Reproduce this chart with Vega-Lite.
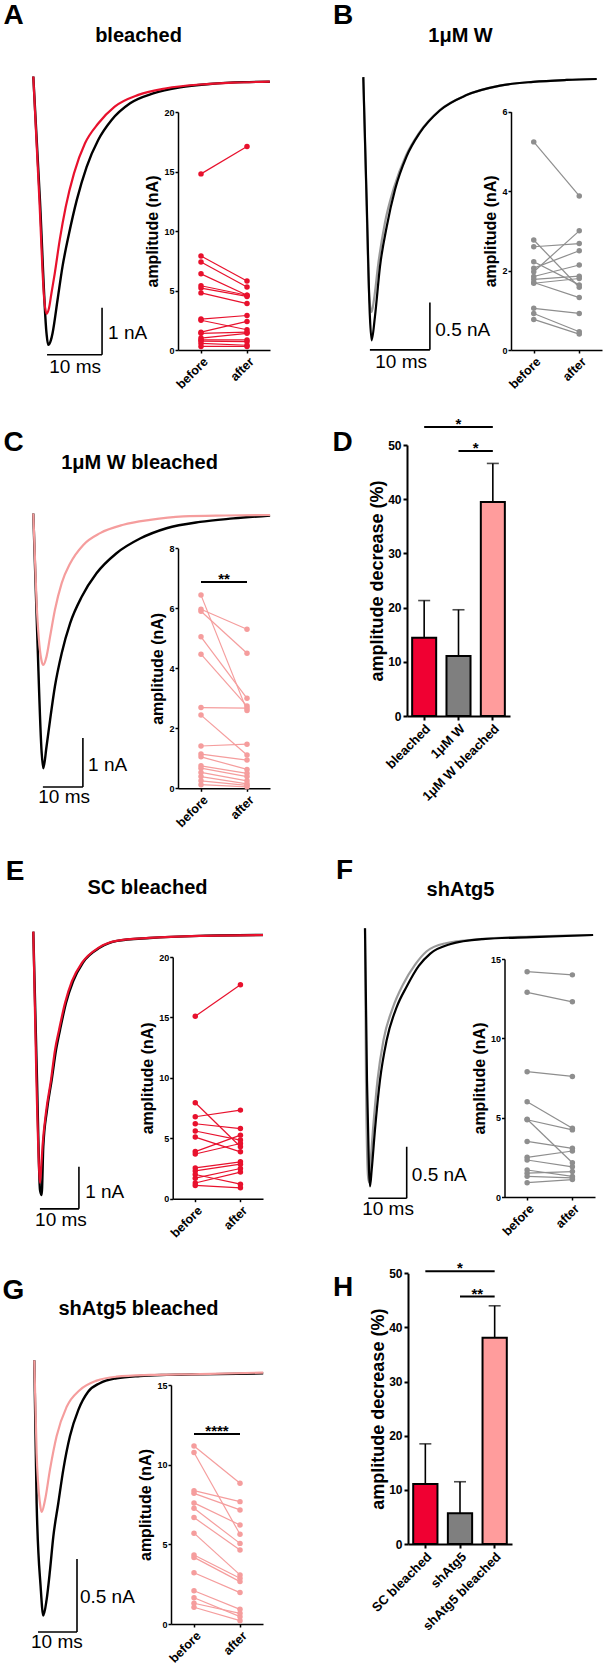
{
"$schema": "https://vega.github.io/schema/vega-lite/v6.json",
"width": 603, "height": 1665, "autosize": {"type": "none"}, "padding": 0,
"config": {
 "view": {"stroke": null},
 "font": "Liberation Sans",
 "axis": {"grid": false, "labelFont": "Liberation Sans", "titleFont": "Liberation Sans", "labelFontWeight": "bold", "titleFontWeight": "bold", "labelColor": "#000000", "titleColor": "#000000", "domainColor": "#000000", "tickColor": "#000000", "domainWidth": 1.5, "tickWidth": 1.5, "labelOverlap": false},
 "text": {"font": "Liberation Sans", "color": "#000000"}
},
"resolve": {"scale": {"x": "independent", "y": "independent", "fill": "independent"}, "axis": {"x": "independent", "y": "independent"}},
"datasets": {
 "traces": [
  {"panel":"A","cond":"k","t":0,"I":0.11},{"panel":"A","cond":"k","t":1.2,"I":-2.5},{"panel":"A","cond":"k","t":2.4,"I":-5.35},{"panel":"A","cond":"k","t":2.7,"I":-5.6},{"panel":"A","cond":"k","t":3.2,"I":-5.5},{"panel":"A","cond":"k","t":3.5,"I":-5.35},{"panel":"A","cond":"k","t":4.4,"I":-4.65},{"panel":"A","cond":"k","t":5.3,"I":-3.94},{"panel":"A","cond":"k","t":6.5,"I":-3.23},{"panel":"A","cond":"k","t":7.9,"I":-2.52},{"panel":"A","cond":"k","t":9.7,"I":-1.81},{"panel":"A","cond":"k","t":11.8,"I":-1.24},{"panel":"A","cond":"k","t":14.2,"I":-0.82},{"panel":"A","cond":"k","t":17.6,"I":-0.46},{"panel":"A","cond":"k","t":21.8,"I":-0.25},{"panel":"A","cond":"k","t":26.7,"I":-0.12},{"panel":"A","cond":"k","t":32.1,"I":-0.05},{"panel":"A","cond":"k","t":38.2,"I":-0.01},{"panel":"A","cond":"k","t":43,"I":0},
  {"panel":"A","cond":"c","t":0,"I":0.11},{"panel":"A","cond":"c","t":1.1,"I":-2.5},{"panel":"A","cond":"c","t":2.0,"I":-4.65},{"panel":"A","cond":"c","t":2.4,"I":-4.94},{"panel":"A","cond":"c","t":2.85,"I":-4.82},{"panel":"A","cond":"c","t":3.3,"I":-4.5},{"panel":"A","cond":"c","t":3.9,"I":-4.08},{"panel":"A","cond":"c","t":4.8,"I":-3.37},{"panel":"A","cond":"c","t":5.9,"I":-2.66},{"panel":"A","cond":"c","t":7.4,"I":-1.95},{"panel":"A","cond":"c","t":9.4,"I":-1.31},{"panel":"A","cond":"c","t":11.8,"I":-0.89},{"panel":"A","cond":"c","t":14.8,"I":-0.53},{"panel":"A","cond":"c","t":19.1,"I":-0.28},{"panel":"A","cond":"c","t":24.2,"I":-0.14},{"panel":"A","cond":"c","t":30.3,"I":-0.06},{"panel":"A","cond":"c","t":36.4,"I":-0.02},{"panel":"A","cond":"c","t":43,"I":0},
  {"panel":"B","cond":"c","t":0,"I":0.02},{"panel":"B","cond":"c","t":0.5,"I":-1.2},{"panel":"B","cond":"c","t":1.0,"I":-2.3},{"panel":"B","cond":"c","t":1.39,"I":-2.46},{"panel":"B","cond":"c","t":1.78,"I":-2.33},{"panel":"B","cond":"c","t":2.5,"I":-1.95},{"panel":"B","cond":"c","t":3.6,"I":-1.52},{"panel":"B","cond":"c","t":5.1,"I":-1.15},{"panel":"B","cond":"c","t":7.1,"I":-0.81},{"panel":"B","cond":"c","t":9.3,"I":-0.57},{"panel":"B","cond":"c","t":12.7,"I":-0.33},{"panel":"B","cond":"c","t":17.2,"I":-0.17},{"panel":"B","cond":"c","t":22.8,"I":-0.07},{"panel":"B","cond":"c","t":28.3,"I":-0.03},{"panel":"B","cond":"c","t":33.9,"I":-0.01},{"panel":"B","cond":"c","t":38.9,"I":0},
  {"panel":"B","cond":"k","t":0,"I":0.02},{"panel":"B","cond":"k","t":0.56,"I":-1.28},{"panel":"B","cond":"k","t":1.1,"I":-2.51},{"panel":"B","cond":"k","t":1.39,"I":-2.76},{"panel":"B","cond":"k","t":1.94,"I":-2.51},{"panel":"B","cond":"k","t":2.78,"I":-1.98},{"panel":"B","cond":"k","t":3.9,"I":-1.56},{"panel":"B","cond":"k","t":5.28,"I":-1.17},{"panel":"B","cond":"k","t":7.2,"I":-0.82},{"panel":"B","cond":"k","t":9.4,"I":-0.57},{"panel":"B","cond":"k","t":12.8,"I":-0.33},{"panel":"B","cond":"k","t":17.2,"I":-0.17},{"panel":"B","cond":"k","t":22.8,"I":-0.07},{"panel":"B","cond":"k","t":28.3,"I":-0.03},{"panel":"B","cond":"k","t":33.9,"I":-0.01},{"panel":"B","cond":"k","t":38.9,"I":0},
  {"panel":"C","cond":"k","t":0,"I":0.03},{"panel":"C","cond":"k","t":1.0,"I":-2.48},{"panel":"C","cond":"k","t":2.1,"I":-4.86},{"panel":"C","cond":"k","t":2.5,"I":-5.17},{"panel":"C","cond":"k","t":3.3,"I":-4.73},{"panel":"C","cond":"k","t":4.2,"I":-4.18},{"panel":"C","cond":"k","t":5.4,"I":-3.5},{"panel":"C","cond":"k","t":7.1,"I":-2.82},{"panel":"C","cond":"k","t":9.2,"I":-2.21},{"panel":"C","cond":"k","t":12.1,"I":-1.67},{"panel":"C","cond":"k","t":15.8,"I":-1.19},{"panel":"C","cond":"k","t":20.8,"I":-0.78},{"panel":"C","cond":"k","t":26.7,"I":-0.48},{"panel":"C","cond":"k","t":33.3,"I":-0.27},{"panel":"C","cond":"k","t":41.7,"I":-0.14},{"panel":"C","cond":"k","t":50,"I":-0.07},{"panel":"C","cond":"k","t":59.2,"I":-0.01},
  {"panel":"C","cond":"c","t":0,"I":0.03},{"panel":"C","cond":"c","t":0.83,"I":-1.8},{"panel":"C","cond":"c","t":2.0,"I":-2.95},{"panel":"C","cond":"c","t":2.5,"I":-3.06},{"panel":"C","cond":"c","t":3.3,"I":-2.89},{"panel":"C","cond":"c","t":4.2,"I":-2.48},{"panel":"C","cond":"c","t":5.4,"I":-1.94},{"panel":"C","cond":"c","t":7.1,"I":-1.39},{"panel":"C","cond":"c","t":9.2,"I":-0.99},{"panel":"C","cond":"c","t":12.5,"I":-0.61},{"panel":"C","cond":"c","t":16.7,"I":-0.37},{"panel":"C","cond":"c","t":22.5,"I":-0.2},{"panel":"C","cond":"c","t":29.2,"I":-0.1},{"panel":"C","cond":"c","t":37.5,"I":-0.03},{"panel":"C","cond":"c","t":48,"I":-0.01},{"panel":"C","cond":"c","t":59.2,"I":0},
  {"panel":"E","cond":"k","t":0,"I":0.08},{"panel":"E","cond":"k","t":0.95,"I":-3.45},{"panel":"E","cond":"k","t":1.72,"I":-6.07},{"panel":"E","cond":"k","t":2.15,"I":-6.19},{"panel":"E","cond":"k","t":2.56,"I":-5.04},{"panel":"E","cond":"k","t":3.51,"I":-4.17},{"panel":"E","cond":"k","t":4.72,"I":-3.45},{"panel":"E","cond":"k","t":5.82,"I":-2.74},{"panel":"E","cond":"k","t":6.85,"I":-2.26},{"panel":"E","cond":"k","t":8.38,"I":-1.62},{"panel":"E","cond":"k","t":10.2,"I":-1.1},{"panel":"E","cond":"k","t":12.7,"I":-0.66},{"panel":"E","cond":"k","t":17.1,"I":-0.3},{"panel":"E","cond":"k","t":21.5,"I":-0.14},{"panel":"E","cond":"k","t":29.9,"I":-0.07},{"panel":"E","cond":"k","t":42.7,"I":-0.02},{"panel":"E","cond":"k","t":58.9,"I":0},
  {"panel":"E","cond":"c","t":0,"I":0.08},{"panel":"E","cond":"c","t":0.8,"I":-3.45},{"panel":"E","cond":"c","t":1.5,"I":-5.6},{"panel":"E","cond":"c","t":1.72,"I":-5.9},{"panel":"E","cond":"c","t":2.05,"I":-5.5},{"panel":"E","cond":"c","t":2.36,"I":-5.04},{"panel":"E","cond":"c","t":3.33,"I":-4.17},{"panel":"E","cond":"c","t":4.54,"I":-3.45},{"panel":"E","cond":"c","t":5.56,"I":-2.74},{"panel":"E","cond":"c","t":6.6,"I":-2.26},{"panel":"E","cond":"c","t":8.13,"I":-1.62},{"panel":"E","cond":"c","t":9.9,"I":-1.1},{"panel":"E","cond":"c","t":12.5,"I":-0.66},{"panel":"E","cond":"c","t":16.8,"I":-0.3},{"panel":"E","cond":"c","t":21.3,"I":-0.14},{"panel":"E","cond":"c","t":29.7,"I":-0.07},{"panel":"E","cond":"c","t":42.5,"I":-0.02},{"panel":"E","cond":"c","t":58.9,"I":0},
  {"panel":"F","cond":"c","t":0,"I":0.065},{"panel":"F","cond":"c","t":0.26,"I":-1.41},{"panel":"F","cond":"c","t":0.78,"I":-2.34},{"panel":"F","cond":"c","t":1.04,"I":-2.4},{"panel":"F","cond":"c","t":1.3,"I":-2.28},{"panel":"F","cond":"c","t":2.08,"I":-1.89},{"panel":"F","cond":"c","t":3.26,"I":-1.41},{"panel":"F","cond":"c","t":4.82,"I":-1.02},{"panel":"F","cond":"c","t":7.3,"I":-0.7},{"panel":"F","cond":"c","t":9.9,"I":-0.48},{"panel":"F","cond":"c","t":13,"I":-0.29},{"panel":"F","cond":"c","t":16,"I":-0.16},{"panel":"F","cond":"c","t":21,"I":-0.08},{"panel":"F","cond":"c","t":30,"I":-0.04},{"panel":"F","cond":"c","t":43,"I":-0.015},{"panel":"F","cond":"c","t":59.4,"I":0},
  {"panel":"F","cond":"k","t":0,"I":0.065},{"panel":"F","cond":"k","t":0.52,"I":-1.41},{"panel":"F","cond":"k","t":1.04,"I":-2.28},{"panel":"F","cond":"k","t":1.3,"I":-2.44},{"panel":"F","cond":"k","t":1.74,"I":-2.28},{"panel":"F","cond":"k","t":2.6,"I":-1.89},{"panel":"F","cond":"k","t":3.9,"I":-1.41},{"panel":"F","cond":"k","t":5.65,"I":-1.02},{"panel":"F","cond":"k","t":8.25,"I":-0.7},{"panel":"F","cond":"k","t":10.86,"I":-0.5},{"panel":"F","cond":"k","t":14,"I":-0.3},{"panel":"F","cond":"k","t":17,"I":-0.18},{"panel":"F","cond":"k","t":22.1,"I":-0.09},{"panel":"F","cond":"k","t":30.7,"I":-0.04},{"panel":"F","cond":"k","t":43.75,"I":-0.02},{"panel":"F","cond":"k","t":59.4,"I":0},
  {"panel":"G","cond":"k","t":0,"I":0.09},{"panel":"G","cond":"k","t":0.6,"I":-0.89},{"panel":"G","cond":"k","t":1.62,"I":-1.46},{"panel":"G","cond":"k","t":2.31,"I":-1.66},{"panel":"G","cond":"k","t":3.16,"I":-1.55},{"panel":"G","cond":"k","t":4.02,"I":-1.35},{"panel":"G","cond":"k","t":4.87,"I":-1.12},{"panel":"G","cond":"k","t":6.15,"I":-0.89},{"panel":"G","cond":"k","t":7.44,"I":-0.66},{"panel":"G","cond":"k","t":9.15,"I":-0.43},{"panel":"G","cond":"k","t":11.3,"I":-0.25},{"panel":"G","cond":"k","t":13.8,"I":-0.126},{"panel":"G","cond":"k","t":16.8,"I":-0.068},{"panel":"G","cond":"k","t":21.1,"I":-0.034},{"panel":"G","cond":"k","t":27.1,"I":-0.018},{"panel":"G","cond":"k","t":33.9,"I":-0.011},{"panel":"G","cond":"k","t":42.5,"I":-0.007},{"panel":"G","cond":"k","t":58.7,"I":0},
  {"panel":"G","cond":"c","t":0,"I":0.09},{"panel":"G","cond":"c","t":0.6,"I":-0.55},{"panel":"G","cond":"c","t":1.45,"I":-0.89},{"panel":"G","cond":"c","t":1.88,"I":-0.95},{"panel":"G","cond":"c","t":2.74,"I":-0.87},{"panel":"G","cond":"c","t":4.02,"I":-0.66},{"panel":"G","cond":"c","t":5.73,"I":-0.43},{"panel":"G","cond":"c","t":8.29,"I":-0.23},{"panel":"G","cond":"c","t":11.7,"I":-0.114},{"panel":"G","cond":"c","t":16,"I":-0.05},{"panel":"G","cond":"c","t":21.1,"I":-0.023},{"panel":"G","cond":"c","t":29.7,"I":-0.011},{"panel":"G","cond":"c","t":42.5,"I":-0.005},{"panel":"G","cond":"c","t":58.7,"I":0.005}
 ],
 "scalebars": [
  {"panel":"A","t":2.5,"t2":12.5,"I":-5.81,"I2":-5.81},{"panel":"A","t":12.5,"t2":12.5,"I":-4.81,"I2":-5.81},
  {"panel":"B","t":1.1,"t2":11.1,"I":-2.86,"I2":-2.86},{"panel":"B","t":11.1,"t2":11.1,"I":-2.36,"I2":-2.86},
  {"panel":"C","t":2.4,"t2":12.4,"I":-5.55,"I2":-5.55},{"panel":"C","t":12.4,"t2":12.4,"I":-4.55,"I2":-5.55},
  {"panel":"E","t":1.7,"t2":11.7,"I":-6.52,"I2":-6.52},{"panel":"E","t":11.7,"t2":11.7,"I":-5.52,"I2":-6.52},
  {"panel":"F","t":0.86,"t2":10.86,"I":-2.556,"I2":-2.556},{"panel":"F","t":10.86,"t2":10.86,"I":-2.056,"I2":-2.556},
  {"panel":"G","t":0.95,"t2":10.95,"I":-1.772,"I2":-1.772},{"panel":"G","t":10.95,"t2":10.95,"I":-1.272,"I2":-1.772}
 ],
 "scaletext": [
  {"panel":"A","kind":"amp","label":"1 nA","t":13.6,"I":-5.35},{"panel":"A","kind":"time","label":"10 ms","t":7.6,"I":-6.07},
  {"panel":"B","kind":"amp","label":"0.5 nA","t":12.0,"I":-2.65},{"panel":"B","kind":"time","label":"10 ms","t":6.3,"I":-2.99},
  {"panel":"C","kind":"amp","label":"1 nA","t":13.7,"I":-5.1},{"panel":"C","kind":"time","label":"10 ms","t":7.7,"I":-5.76},
  {"panel":"E","kind":"amp","label":"1 nA","t":13.3,"I":-6.12},{"panel":"E","kind":"time","label":"10 ms","t":7.1,"I":-6.79},
  {"panel":"F","kind":"amp","label":"0.5 nA","t":12.2,"I":-2.33},{"panel":"F","kind":"time","label":"10 ms","t":6.0,"I":-2.66},
  {"panel":"G","kind":"amp","label":"0.5 nA","t":11.7,"I":-1.532},{"panel":"G","kind":"time","label":"10 ms","t":5.8,"I":-1.84}
 ],
 "pairs": [
  {"panel":"A","id":1,"before":14.8,"after":17.1},{"panel":"A","id":2,"before":7.9,"after":5.8},{"panel":"A","id":3,"before":7.4,"after":5.3},{"panel":"A","id":4,"before":6.4,"after":4.6},{"panel":"A","id":5,"before":5.4,"after":4.6},{"panel":"A","id":6,"before":5.2,"after":4.5},{"panel":"A","id":7,"before":4.8,"after":3.9},{"panel":"A","id":8,"before":2.6,"after":2.9},{"panel":"A","id":9,"before":2.5,"after":1.7},{"panel":"A","id":10,"before":1.5,"after":2.4},{"panel":"A","id":11,"before":1.4,"after":1.5},{"panel":"A","id":12,"before":1.0,"after":1.4},{"panel":"A","id":13,"before":0.85,"after":0.85},{"panel":"A","id":14,"before":0.75,"after":0.7},{"panel":"A","id":15,"before":0.55,"after":0.4},{"panel":"A","id":16,"before":0.3,"after":0.3},
  {"panel":"B","id":1,"before":5.24,"after":3.88},{"panel":"B","id":2,"before":2.77,"after":1.58},{"panel":"B","id":3,"before":2.6,"after":2.68},{"panel":"B","id":4,"before":2.22,"after":1.64},{"panel":"B","id":5,"before":2.06,"after":2.5},{"panel":"B","id":6,"before":1.97,"after":3.0},{"panel":"B","id":7,"before":1.85,"after":2.14},{"panel":"B","id":8,"before":1.78,"after":1.86},{"panel":"B","id":9,"before":1.7,"after":1.32},{"panel":"B","id":10,"before":1.68,"after":1.8},{"panel":"B","id":11,"before":1.05,"after":0.92},{"panel":"B","id":12,"before":0.92,"after":0.46},{"panel":"B","id":13,"before":0.77,"after":0.4},
  {"panel":"C","id":1,"before":6.44,"after":2.59},{"panel":"C","id":2,"before":5.97,"after":5.3},{"panel":"C","id":3,"before":5.9,"after":4.5},{"panel":"C","id":4,"before":5.05,"after":3.0},{"panel":"C","id":5,"before":4.47,"after":2.74},{"panel":"C","id":6,"before":2.69,"after":2.67},{"panel":"C","id":7,"before":2.44,"after":1.11},{"panel":"C","id":8,"before":1.41,"after":1.47},{"panel":"C","id":9,"before":1.14,"after":0.94},{"panel":"C","id":10,"before":1.05,"after":0.63},{"panel":"C","id":11,"before":0.75,"after":0.5},{"panel":"C","id":12,"before":0.67,"after":0.39},{"panel":"C","id":13,"before":0.53,"after":0.25},{"panel":"C","id":14,"before":0.39,"after":0.15},{"panel":"C","id":15,"before":0.25,"after":0.1},{"panel":"C","id":16,"before":0.12,"after":0.05},
  {"panel":"E","id":1,"before":15.1,"after":17.7},{"panel":"E","id":2,"before":7.94,"after":4.3},{"panel":"E","id":3,"before":6.78,"after":7.33},{"panel":"E","id":4,"before":6.2,"after":5.8},{"panel":"E","id":5,"before":5.6,"after":4.85},{"panel":"E","id":6,"before":5.1,"after":3.88},{"panel":"E","id":7,"before":3.9,"after":5.26},{"panel":"E","id":8,"before":3.7,"after":4.57},{"panel":"E","id":9,"before":2.55,"after":3.05},{"panel":"E","id":10,"before":2.3,"after":2.86},{"panel":"E","id":11,"before":2.0,"after":1.2},{"panel":"E","id":12,"before":1.7,"after":2.5},{"panel":"E","id":13,"before":1.3,"after":2.2},{"panel":"E","id":14,"before":1.1,"after":0.9},
  {"panel":"F","id":1,"before":14.2,"after":14.0},{"panel":"F","id":2,"before":12.9,"after":12.3},{"panel":"F","id":3,"before":7.9,"after":7.6},{"panel":"F","id":4,"before":6.0,"after":4.33},{"panel":"F","id":5,"before":4.9,"after":2.16},{"panel":"F","id":6,"before":4.87,"after":4.23},{"panel":"F","id":7,"before":3.5,"after":3.07},{"panel":"F","id":8,"before":2.5,"after":2.9},{"panel":"F","id":9,"before":2.33,"after":1.9},{"panel":"F","id":10,"before":1.7,"after":1.3},{"panel":"F","id":11,"before":1.5,"after":1.6},{"panel":"F","id":12,"before":1.3,"after":1.2},{"panel":"F","id":13,"before":0.9,"after":1.1},
  {"panel":"G","id":1,"before":11.17,"after":8.83},{"panel":"G","id":2,"before":10.76,"after":5.63},{"panel":"G","id":3,"before":8.37,"after":7.68},{"panel":"G","id":4,"before":8.2,"after":7.16},{"panel":"G","id":5,"before":7.6,"after":6.21},{"panel":"G","id":6,"before":7.26,"after":5.06},{"panel":"G","id":7,"before":6.68,"after":4.64},{"panel":"G","id":8,"before":5.7,"after":3.08},{"panel":"G","id":9,"before":4.33,"after":2.87},{"panel":"G","id":10,"before":4.18,"after":2.66},{"panel":"G","id":11,"before":3.22,"after":1.97},{"panel":"G","id":12,"before":2.09,"after":0.92},{"panel":"G","id":13,"before":1.65,"after":0.46},{"panel":"G","id":14,"before":1.3,"after":0.67},{"panel":"G","id":15,"before":1.05,"after":0.21}
 ],
 "sigins": [
  {"panel":"C","phase":"before","amp":6.88,"label":"**"},{"panel":"C","phase":"after","amp":6.88,"label":"**"},
  {"panel":"G","phase":"before","amp":11.93,"label":"****"},{"panel":"G","phase":"after","amp":11.93,"label":"****"}
 ],
 "bars": [
  {"panel":"D","group":"bleached","value":14.45,"hi":21.3},{"panel":"D","group":"1μM W","value":11.07,"hi":19.6},{"panel":"D","group":"1μM W bleached","value":39.5,"hi":46.6},
  {"panel":"H","group":"SC bleached","value":11.08,"hi":18.5},{"panel":"H","group":"shAtg5","value":5.67,"hi":11.5},{"panel":"H","group":"shAtg5 bleached","value":38.1,"hi":44.0}
 ],
 "sigbars": [
  {"panel":"D","sig":1,"end":"L","group":"bleached","value":53.3,"label":"*"},{"panel":"D","sig":1,"end":"R","group":"1μM W bleached","value":53.3,"label":"*"},
  {"panel":"D","sig":2,"end":"L","group":"1μM W","value":48.9,"label":"*"},{"panel":"D","sig":2,"end":"R","group":"1μM W bleached","value":48.9,"label":"*"},
  {"panel":"H","sig":1,"end":"L","group":"SC bleached","value":50.4,"label":"*"},{"panel":"H","sig":1,"end":"R","group":"shAtg5 bleached","value":50.4,"label":"*"},
  {"panel":"H","sig":2,"end":"L","group":"shAtg5","value":45.7,"label":"**"},{"panel":"H","sig":2,"end":"R","group":"shAtg5 bleached","value":45.7,"label":"**"}
 ]
},
"layer": [
 {
  "encoding": {
   "x": {"field":"t","type":"quantitative","scale":{"domain":[0,43],"range":[33.3,269.8],"nice":false,"zero":false},"axis":{"orient":"top","domain":false,"ticks":false,"labels":false,"title":"bleached","titleX":138,"titleY":35,"titleAlign":"center","titleBaseline":"middle","titleAngle":0,"titleFontSize":20}},
   "y": {"field":"I","type":"quantitative","scale":{"domain":[-5.9,0.3],"range":[359.0,67.6],"nice":false,"zero":false},"axis":{"orient":"left","domain":false,"ticks":false,"labels":false,"title":"A","titleX":13,"titleY":15,"titleAlign":"center","titleBaseline":"middle","titleAngle":0,"titleFontSize":28}}
  },
  "layer": [
   {"data":{"name":"traces"},"transform":[{"filter":"datum.panel==='A' && datum.cond==='k'"}],"mark":{"type":"line","color":"#000000","strokeWidth":2.4,"interpolate":"monotone"}},
   {"data":{"name":"traces"},"transform":[{"filter":"datum.panel==='A' && datum.cond==='c'"}],"mark":{"type":"line","color":"#e8112d","strokeWidth":2.2,"interpolate":"monotone"}},
   {"data":{"name":"scalebars"},"transform":[{"filter":"datum.panel==='A'"}],"mark":{"type":"rule","color":"#000000","strokeWidth":1.6},"encoding":{"x2":{"field":"t2"},"y2":{"field":"I2"}}},
   {"data":{"name":"scaletext"},"transform":[{"filter":"datum.panel==='A' && datum.kind==='amp'"}],"mark":{"type":"text","align":"left","baseline":"middle","fontSize":19,"color":"#000000"},"encoding":{"text":{"field":"label"}}},
   {"data":{"name":"scaletext"},"transform":[{"filter":"datum.panel==='A' && datum.kind==='time'"}],"mark":{"type":"text","align":"center","baseline":"middle","fontSize":19,"color":"#000000"},"encoding":{"text":{"field":"label"}}}
  ]
 },
 {
  "encoding": {
   "x": {"field":"phase","type":"nominal","scale":{"type":"point","domain":["before","after"],"range":[178,270],"padding":0.5},"axis":{"orient":"bottom","offset":-1315,"title":null,"labelAngle":-45,"labelAlign":"right","labelBaseline":"top","labelFontSize":12.5,"tickSize":3,"labelPadding":2}},
   "y": {"field":"amp","type":"quantitative","scale":{"domain":[0,20],"range":[350,112],"nice":false,"zero":false},"axis":{"orient":"left","offset":-178,"values":[0,5,10,15,20],"title":"amplitude (nA)","titleFontSize":16,"titlePadding":3,"labelFontSize":9,"tickSize":3,"labelPadding":1}}
  },
  "layer": [
   {"data":{"name":"pairs"},"transform":[{"filter":"datum.panel==='A'"},{"fold":["before","after"],"as":["phase","amp"]}],"mark":{"type":"line","color":"#e8112d","strokeWidth":1.2},"encoding":{"detail":{"field":"id","type":"nominal"}}},
   {"data":{"name":"pairs"},"transform":[{"filter":"datum.panel==='A'"},{"fold":["before","after"],"as":["phase","amp"]}],"mark":{"type":"point","filled":true,"color":"#e8112d","size":30,"opacity":1}}
  ]
 },
 {
  "encoding": {
   "x": {"field":"t","type":"quantitative","scale":{"domain":[0,39],"range":[363.3,597.3],"nice":false,"zero":false},"axis":{"orient":"top","domain":false,"ticks":false,"labels":false,"title":"1μM W","titleX":460,"titleY":35,"titleAlign":"center","titleBaseline":"middle","titleAngle":0,"titleFontSize":20}},
   "y": {"field":"I","type":"quantitative","scale":{"domain":[-3.0,0.15],"range":[363.1,64.8],"nice":false,"zero":false},"axis":{"orient":"left","domain":false,"ticks":false,"labels":false,"title":"B","titleX":342.5,"titleY":15,"titleAlign":"center","titleBaseline":"middle","titleAngle":0,"titleFontSize":28}}
  },
  "layer": [
   {"data":{"name":"traces"},"transform":[{"filter":"datum.panel==='B' && datum.cond==='c'"}],"mark":{"type":"line","color":"#9a9a9a","strokeWidth":2.2,"interpolate":"monotone"}},
   {"data":{"name":"traces"},"transform":[{"filter":"datum.panel==='B' && datum.cond==='k'"}],"mark":{"type":"line","color":"#000000","strokeWidth":2.2,"interpolate":"monotone"}},
   {"data":{"name":"scalebars"},"transform":[{"filter":"datum.panel==='B'"}],"mark":{"type":"rule","color":"#000000","strokeWidth":1.6},"encoding":{"x2":{"field":"t2"},"y2":{"field":"I2"}}},
   {"data":{"name":"scaletext"},"transform":[{"filter":"datum.panel==='B' && datum.kind==='amp'"}],"mark":{"type":"text","align":"left","baseline":"middle","fontSize":19,"color":"#000000"},"encoding":{"text":{"field":"label"}}},
   {"data":{"name":"scaletext"},"transform":[{"filter":"datum.panel==='B' && datum.kind==='time'"}],"mark":{"type":"text","align":"center","baseline":"middle","fontSize":19,"color":"#000000"},"encoding":{"text":{"field":"label"}}}
  ]
 },
 {
  "encoding": {
   "x": {"field":"phase","type":"nominal","scale":{"type":"point","domain":["before","after"],"range":[511,602],"padding":0.5},"axis":{"orient":"bottom","offset":-1315,"title":null,"labelAngle":-45,"labelAlign":"right","labelBaseline":"top","labelFontSize":12.5,"tickSize":3,"labelPadding":2}},
   "y": {"field":"amp","type":"quantitative","scale":{"domain":[0,6],"range":[350,111.7],"nice":false,"zero":false},"axis":{"orient":"left","offset":-511,"values":[0,2,4,6],"title":"amplitude (nA)","titleFontSize":16,"titlePadding":3,"labelFontSize":9,"tickSize":3,"labelPadding":1}}
  },
  "layer": [
   {"data":{"name":"pairs"},"transform":[{"filter":"datum.panel==='B'"},{"fold":["before","after"],"as":["phase","amp"]}],"mark":{"type":"line","color":"#8e8e8e","strokeWidth":1.2},"encoding":{"detail":{"field":"id","type":"nominal"}}},
   {"data":{"name":"pairs"},"transform":[{"filter":"datum.panel==='B'"},{"fold":["before","after"],"as":["phase","amp"]}],"mark":{"type":"point","filled":true,"color":"#8e8e8e","size":30,"opacity":1}}
  ]
 },
 {
  "encoding": {
   "x": {"field":"t","type":"quantitative","scale":{"domain":[0,59.2],"range":[33.3,270.1],"nice":false,"zero":false},"axis":{"orient":"top","domain":false,"ticks":false,"labels":false,"title":"1μM W bleached","titleX":139,"titleY":462,"titleAlign":"center","titleBaseline":"middle","titleAngle":0,"titleFontSize":20}},
   "y": {"field":"I","type":"quantitative","scale":{"domain":[-5.8,0.3],"range":[799.2,500.3],"nice":false,"zero":false},"axis":{"orient":"left","domain":false,"ticks":false,"labels":false,"title":"C","titleX":13,"titleY":442,"titleAlign":"center","titleBaseline":"middle","titleAngle":0,"titleFontSize":28}}
  },
  "layer": [
   {"data":{"name":"traces"},"transform":[{"filter":"datum.panel==='C' && datum.cond==='k'"}],"mark":{"type":"line","color":"#000000","strokeWidth":2.4,"interpolate":"monotone"}},
   {"data":{"name":"traces"},"transform":[{"filter":"datum.panel==='C' && datum.cond==='c'"}],"mark":{"type":"line","color":"#f59d9d","strokeWidth":2.2,"interpolate":"monotone"}},
   {"data":{"name":"scalebars"},"transform":[{"filter":"datum.panel==='C'"}],"mark":{"type":"rule","color":"#000000","strokeWidth":1.6},"encoding":{"x2":{"field":"t2"},"y2":{"field":"I2"}}},
   {"data":{"name":"scaletext"},"transform":[{"filter":"datum.panel==='C' && datum.kind==='amp'"}],"mark":{"type":"text","align":"left","baseline":"middle","fontSize":19,"color":"#000000"},"encoding":{"text":{"field":"label"}}},
   {"data":{"name":"scaletext"},"transform":[{"filter":"datum.panel==='C' && datum.kind==='time'"}],"mark":{"type":"text","align":"center","baseline":"middle","fontSize":19,"color":"#000000"},"encoding":{"text":{"field":"label"}}}
  ]
 },
 {
  "encoding": {
   "x": {"field":"phase","type":"nominal","scale":{"type":"point","domain":["before","after"],"range":[178,270],"padding":0.5},"axis":{"orient":"bottom","offset":-876.7,"title":null,"labelAngle":-45,"labelAlign":"right","labelBaseline":"top","labelFontSize":12.5,"tickSize":3,"labelPadding":2}},
   "y": {"field":"amp","type":"quantitative","scale":{"domain":[0,8],"range":[788.3,548.3],"nice":false,"zero":false},"axis":{"orient":"left","offset":-178,"values":[0,2,4,6,8],"title":"amplitude (nA)","titleFontSize":16,"titlePadding":3,"labelFontSize":9,"tickSize":3,"labelPadding":1}}
  },
  "layer": [
   {"data":{"name":"pairs"},"transform":[{"filter":"datum.panel==='C'"},{"fold":["before","after"],"as":["phase","amp"]}],"mark":{"type":"line","color":"#f59d9d","strokeWidth":1.2},"encoding":{"detail":{"field":"id","type":"nominal"}}},
   {"data":{"name":"pairs"},"transform":[{"filter":"datum.panel==='C'"},{"fold":["before","after"],"as":["phase","amp"]}],"mark":{"type":"point","filled":true,"color":"#f59d9d","size":30,"opacity":1}},
   {"data":{"name":"sigins"},"transform":[{"filter":"datum.panel==='C'"}],"mark":{"type":"line","color":"#000000","strokeWidth":2}},
   {"data":{"name":"sigins"},"transform":[{"filter":"datum.panel==='C' && datum.phase==='before'"}],"mark":{"type":"text","color":"#000000","fontSize":15,"fontWeight":"bold","align":"center","baseline":"alphabetic","dx":23,"dy":2},"encoding":{"text":{"field":"label"}}}
  ]
 },
 {
  "encoding": {
   "y": {"field":"value","type":"quantitative","scale":{"domain":[0,50],"range":[716,445],"nice":false,"zero":false},"axis":{"orient":"left","offset":-407,"values":[0,10,20,30,40,50],"title":"amplitude decrease (%)","titleFontSize":18,"titlePadding":1,"labelFontSize":12,"tickSize":4,"labelPadding":2,"domainWidth":2,"tickWidth":2}}
  },
  "resolve": {"axis": {"x": "independent"}},
  "layer": [
   {"data":{"name":"bars"},"transform":[{"filter":"datum.panel==='D'"}],"mark":{"type":"bar","stroke":"#000000","strokeWidth":2},
    "encoding":{"x":{"field":"group","type":"nominal","scale":{"type":"band","domain":["bleached","1μM W","1μM W bleached"],"range":[407,510],"paddingInner":0.3,"paddingOuter":0.15},"axis":{"orient":"bottom","offset":-949,"title":null,"labelAngle":-45,"labelAlign":"right","labelBaseline":"top","labelFontSize":13,"tickSize":4,"labelPadding":2,"domainWidth":2,"tickWidth":2}},
     "y2":{"datum":0},
     "fill":{"field":"group","type":"nominal","scale":{"domain":["bleached","1μM W","1μM W bleached"],"range":["#f00032","#7f7f7f","#ff9c9c"]},"legend":null}}},
   {"data":{"name":"bars"},"transform":[{"filter":"datum.panel==='D'"}],"mark":{"type":"rule","color":"#000000","strokeWidth":1.6},
    "encoding":{"x":{"field":"group","type":"nominal","scale":{"type":"band","domain":["bleached","1μM W","1μM W bleached"],"range":[407,510],"paddingInner":0.3,"paddingOuter":0.15},"axis":null},"y2":{"field":"hi"}}},
   {"data":{"name":"bars"},"transform":[{"filter":"datum.panel==='D'"}],"mark":{"type":"tick","orient":"horizontal","color":"#000000","size":12,"thickness":1.6},
    "encoding":{"x":{"field":"group","type":"nominal","scale":{"type":"band","domain":["bleached","1μM W","1μM W bleached"],"range":[407,510],"paddingInner":0.3,"paddingOuter":0.15},"axis":null},"y":{"field":"hi","type":"quantitative","scale":{"domain":[0,50],"range":[716,445],"nice":false,"zero":false},"axis":{"orient":"left","offset":-407,"values":[0,10,20,30,40,50],"title":"amplitude decrease (%)","titleFontSize":18,"titlePadding":1,"labelFontSize":12,"tickSize":4,"labelPadding":2,"domainWidth":2,"tickWidth":2}}}},
   {"data":{"name":"sigbars"},"transform":[{"filter":"datum.panel==='D'"}],"mark":{"type":"line","color":"#000000","strokeWidth":2},
    "encoding":{"x":{"field":"group","type":"nominal","scale":{"type":"band","domain":["bleached","1μM W","1μM W bleached"],"range":[407,510],"paddingInner":0.3,"paddingOuter":0.15},"axis":{"orient":"top","domain":false,"ticks":false,"labels":false,"title":"D","titleX":342,"titleY":442,"titleAlign":"center","titleBaseline":"middle","titleAngle":0,"titleFontSize":28}},"detail":{"field":"sig","type":"nominal"}}},
   {"data":{"name":"sigbars"},"transform":[{"filter":"datum.panel==='D' && datum.sig===1 && datum.end==='L'"}],"mark":{"type":"text","color":"#000000","fontSize":15,"fontWeight":"bold","align":"center","baseline":"alphabetic","dx":34.3,"dy":2},
    "encoding":{"x":{"field":"group","type":"nominal","scale":{"type":"band","domain":["bleached","1μM W","1μM W bleached"],"range":[407,510],"paddingInner":0.3,"paddingOuter":0.15},"axis":null},"text":{"field":"label"}}},
   {"data":{"name":"sigbars"},"transform":[{"filter":"datum.panel==='D' && datum.sig===2 && datum.end==='L'"}],"mark":{"type":"text","color":"#000000","fontSize":15,"fontWeight":"bold","align":"center","baseline":"alphabetic","dx":17.2,"dy":2},
    "encoding":{"x":{"field":"group","type":"nominal","scale":{"type":"band","domain":["bleached","1μM W","1μM W bleached"],"range":[407,510],"paddingInner":0.3,"paddingOuter":0.15},"axis":null},"text":{"field":"label"}}}
  ]
 },
 {
  "encoding": {
   "x": {"field":"t","type":"quantitative","scale":{"domain":[0,59],"range":[33.3,263.4],"nice":false,"zero":false},"axis":{"orient":"top","domain":false,"ticks":false,"labels":false,"title":"SC bleached","titleX":147,"titleY":887,"titleAlign":"center","titleBaseline":"middle","titleAngle":0,"titleFontSize":20}},
   "y": {"field":"I","type":"quantitative","scale":{"domain":[-6.7,0.3],"range":[1216.4,922.4],"nice":false,"zero":false},"axis":{"orient":"left","domain":false,"ticks":false,"labels":false,"title":"E","titleX":14.5,"titleY":871,"titleAlign":"center","titleBaseline":"middle","titleAngle":0,"titleFontSize":28}}
  },
  "layer": [
   {"data":{"name":"traces"},"transform":[{"filter":"datum.panel==='E' && datum.cond==='k'"}],"mark":{"type":"line","color":"#000000","strokeWidth":2.4,"interpolate":"monotone"}},
   {"data":{"name":"traces"},"transform":[{"filter":"datum.panel==='E' && datum.cond==='c'"}],"mark":{"type":"line","color":"#e8112d","strokeWidth":2.2,"interpolate":"monotone"}},
   {"data":{"name":"scalebars"},"transform":[{"filter":"datum.panel==='E'"}],"mark":{"type":"rule","color":"#000000","strokeWidth":1.6},"encoding":{"x2":{"field":"t2"},"y2":{"field":"I2"}}},
   {"data":{"name":"scaletext"},"transform":[{"filter":"datum.panel==='E' && datum.kind==='amp'"}],"mark":{"type":"text","align":"left","baseline":"middle","fontSize":19,"color":"#000000"},"encoding":{"text":{"field":"label"}}},
   {"data":{"name":"scaletext"},"transform":[{"filter":"datum.panel==='E' && datum.kind==='time'"}],"mark":{"type":"text","align":"center","baseline":"middle","fontSize":19,"color":"#000000"},"encoding":{"text":{"field":"label"}}}
  ]
 },
 {
  "encoding": {
   "x": {"field":"phase","type":"nominal","scale":{"type":"point","domain":["before","after"],"range":[172.7,263],"padding":0.5},"axis":{"orient":"bottom","offset":-466.3,"title":null,"labelAngle":-45,"labelAlign":"right","labelBaseline":"top","labelFontSize":12.5,"tickSize":3,"labelPadding":2}},
   "y": {"field":"amp","type":"quantitative","scale":{"domain":[0,20],"range":[1198.7,957],"nice":false,"zero":false},"axis":{"orient":"left","offset":-172.7,"values":[0,5,10,15,20],"title":"amplitude (nA)","titleFontSize":16,"titlePadding":3,"labelFontSize":9,"tickSize":3,"labelPadding":1}}
  },
  "layer": [
   {"data":{"name":"pairs"},"transform":[{"filter":"datum.panel==='E'"},{"fold":["before","after"],"as":["phase","amp"]}],"mark":{"type":"line","color":"#e8112d","strokeWidth":1.2},"encoding":{"detail":{"field":"id","type":"nominal"}}},
   {"data":{"name":"pairs"},"transform":[{"filter":"datum.panel==='E'"},{"fold":["before","after"],"as":["phase","amp"]}],"mark":{"type":"point","filled":true,"color":"#e8112d","size":30,"opacity":1}}
  ]
 },
 {
  "encoding": {
   "x": {"field":"t","type":"quantitative","scale":{"domain":[0,59.4],"range":[365,593.1],"nice":false,"zero":false},"axis":{"orient":"top","domain":false,"ticks":false,"labels":false,"title":"shAtg5","titleX":460,"titleY":889,"titleAlign":"center","titleBaseline":"middle","titleAngle":0,"titleFontSize":20}},
   "y": {"field":"I","type":"quantitative","scale":{"domain":[-2.75,0.1],"range":[1218.25,924.7],"nice":false,"zero":false},"axis":{"orient":"left","domain":false,"ticks":false,"labels":false,"title":"F","titleX":344,"titleY":870,"titleAlign":"center","titleBaseline":"middle","titleAngle":0,"titleFontSize":28}}
  },
  "layer": [
   {"data":{"name":"traces"},"transform":[{"filter":"datum.panel==='F' && datum.cond==='c'"}],"mark":{"type":"line","color":"#9a9a9a","strokeWidth":2.2,"interpolate":"monotone"}},
   {"data":{"name":"traces"},"transform":[{"filter":"datum.panel==='F' && datum.cond==='k'"}],"mark":{"type":"line","color":"#000000","strokeWidth":2.2,"interpolate":"monotone"}},
   {"data":{"name":"scalebars"},"transform":[{"filter":"datum.panel==='F'"}],"mark":{"type":"rule","color":"#000000","strokeWidth":1.6},"encoding":{"x2":{"field":"t2"},"y2":{"field":"I2"}}},
   {"data":{"name":"scaletext"},"transform":[{"filter":"datum.panel==='F' && datum.kind==='amp'"}],"mark":{"type":"text","align":"left","baseline":"middle","fontSize":19,"color":"#000000"},"encoding":{"text":{"field":"label"}}},
   {"data":{"name":"scaletext"},"transform":[{"filter":"datum.panel==='F' && datum.kind==='time'"}],"mark":{"type":"text","align":"center","baseline":"middle","fontSize":19,"color":"#000000"},"encoding":{"text":{"field":"label"}}}
  ]
 },
 {
  "encoding": {
   "x": {"field":"phase","type":"nominal","scale":{"type":"point","domain":["before","after"],"range":[504.5,595],"padding":0.5},"axis":{"orient":"bottom","offset":-468,"title":null,"labelAngle":-45,"labelAlign":"right","labelBaseline":"top","labelFontSize":12.5,"tickSize":3,"labelPadding":2}},
   "y": {"field":"amp","type":"quantitative","scale":{"domain":[0,15],"range":[1197,959],"nice":false,"zero":false},"axis":{"orient":"left","offset":-504.5,"values":[0,5,10,15],"title":"amplitude (nA)","titleFontSize":16,"titlePadding":3,"labelFontSize":9,"tickSize":3,"labelPadding":1}}
  },
  "layer": [
   {"data":{"name":"pairs"},"transform":[{"filter":"datum.panel==='F'"},{"fold":["before","after"],"as":["phase","amp"]}],"mark":{"type":"line","color":"#8e8e8e","strokeWidth":1.2},"encoding":{"detail":{"field":"id","type":"nominal"}}},
   {"data":{"name":"pairs"},"transform":[{"filter":"datum.panel==='F'"},{"fold":["before","after"],"as":["phase","amp"]}],"mark":{"type":"point","filled":true,"color":"#8e8e8e","size":30,"opacity":1}}
  ]
 },
 {
  "encoding": {
   "x": {"field":"t","type":"quantitative","scale":{"domain":[0,58.7],"range":[34.3,263.2],"nice":false,"zero":false},"axis":{"orient":"top","domain":false,"ticks":false,"labels":false,"title":"shAtg5 bleached","titleX":138,"titleY":1308,"titleAlign":"center","titleBaseline":"middle","titleAngle":0,"titleFontSize":20}},
   "y": {"field":"I","type":"quantitative","scale":{"domain":[-1.85,0.12],"range":[1643.4,1355.8],"nice":false,"zero":false},"axis":{"orient":"left","domain":false,"ticks":false,"labels":false,"title":"G","titleX":13,"titleY":1290,"titleAlign":"center","titleBaseline":"middle","titleAngle":0,"titleFontSize":28}}
  },
  "layer": [
   {"data":{"name":"traces"},"transform":[{"filter":"datum.panel==='G' && datum.cond==='k'"}],"mark":{"type":"line","color":"#000000","strokeWidth":2.4,"interpolate":"monotone"}},
   {"data":{"name":"traces"},"transform":[{"filter":"datum.panel==='G' && datum.cond==='c'"}],"mark":{"type":"line","color":"#f59d9d","strokeWidth":2.2,"interpolate":"monotone"}},
   {"data":{"name":"scalebars"},"transform":[{"filter":"datum.panel==='G'"}],"mark":{"type":"rule","color":"#000000","strokeWidth":1.6},"encoding":{"x2":{"field":"t2"},"y2":{"field":"I2"}}},
   {"data":{"name":"scaletext"},"transform":[{"filter":"datum.panel==='G' && datum.kind==='amp'"}],"mark":{"type":"text","align":"left","baseline":"middle","fontSize":19,"color":"#000000"},"encoding":{"text":{"field":"label"}}},
   {"data":{"name":"scaletext"},"transform":[{"filter":"datum.panel==='G' && datum.kind==='time'"}],"mark":{"type":"text","align":"center","baseline":"middle","fontSize":19,"color":"#000000"},"encoding":{"text":{"field":"label"}}}
  ]
 },
 {
  "encoding": {
   "x": {"field":"phase","type":"nominal","scale":{"type":"point","domain":["before","after"],"range":[171,263],"padding":0.5},"axis":{"orient":"bottom","offset":-41,"title":null,"labelAngle":-45,"labelAlign":"right","labelBaseline":"top","labelFontSize":12.5,"tickSize":3,"labelPadding":2}},
   "y": {"field":"amp","type":"quantitative","scale":{"domain":[0,15],"range":[1624,1385],"nice":false,"zero":false},"axis":{"orient":"left","offset":-171,"values":[0,5,10,15],"title":"amplitude (nA)","titleFontSize":16,"titlePadding":3,"labelFontSize":9,"tickSize":3,"labelPadding":1}}
  },
  "layer": [
   {"data":{"name":"pairs"},"transform":[{"filter":"datum.panel==='G'"},{"fold":["before","after"],"as":["phase","amp"]}],"mark":{"type":"line","color":"#f59d9d","strokeWidth":1.2},"encoding":{"detail":{"field":"id","type":"nominal"}}},
   {"data":{"name":"pairs"},"transform":[{"filter":"datum.panel==='G'"},{"fold":["before","after"],"as":["phase","amp"]}],"mark":{"type":"point","filled":true,"color":"#f59d9d","size":30,"opacity":1}},
   {"data":{"name":"sigins"},"transform":[{"filter":"datum.panel==='G'"}],"mark":{"type":"line","color":"#000000","strokeWidth":2}},
   {"data":{"name":"sigins"},"transform":[{"filter":"datum.panel==='G' && datum.phase==='before'"}],"mark":{"type":"text","color":"#000000","fontSize":15,"fontWeight":"bold","align":"center","baseline":"alphabetic","dx":23,"dy":2.5},"encoding":{"text":{"field":"label"}}}
  ]
 },
 {
  "encoding": {
   "y": {"field":"value","type":"quantitative","scale":{"domain":[0,50],"range":[1544,1273.3],"nice":false,"zero":false},"axis":{"orient":"left","offset":-408,"values":[0,10,20,30,40,50],"title":"amplitude decrease (%)","titleFontSize":18,"titlePadding":1,"labelFontSize":12,"tickSize":4,"labelPadding":2,"domainWidth":2,"tickWidth":2}}
  },
  "resolve": {"axis": {"x": "independent"}},
  "layer": [
   {"data":{"name":"bars"},"transform":[{"filter":"datum.panel==='H'"}],"mark":{"type":"bar","stroke":"#000000","strokeWidth":2},
    "encoding":{"x":{"field":"group","type":"nominal","scale":{"type":"band","domain":["SC bleached","shAtg5","shAtg5 bleached"],"range":[408,512],"paddingInner":0.3,"paddingOuter":0.15},"axis":{"orient":"bottom","offset":-121,"title":null,"labelAngle":-45,"labelAlign":"right","labelBaseline":"top","labelFontSize":13,"tickSize":4,"labelPadding":2,"domainWidth":2,"tickWidth":2}},
     "y2":{"datum":0},
     "fill":{"field":"group","type":"nominal","scale":{"domain":["SC bleached","shAtg5","shAtg5 bleached"],"range":["#f00032","#7f7f7f","#ff9c9c"]},"legend":null}}},
   {"data":{"name":"bars"},"transform":[{"filter":"datum.panel==='H'"}],"mark":{"type":"rule","color":"#000000","strokeWidth":1.6},
    "encoding":{"x":{"field":"group","type":"nominal","scale":{"type":"band","domain":["SC bleached","shAtg5","shAtg5 bleached"],"range":[408,512],"paddingInner":0.3,"paddingOuter":0.15},"axis":null},"y2":{"field":"hi"}}},
   {"data":{"name":"bars"},"transform":[{"filter":"datum.panel==='H'"}],"mark":{"type":"tick","orient":"horizontal","color":"#000000","size":12,"thickness":1.6},
    "encoding":{"x":{"field":"group","type":"nominal","scale":{"type":"band","domain":["SC bleached","shAtg5","shAtg5 bleached"],"range":[408,512],"paddingInner":0.3,"paddingOuter":0.15},"axis":null},"y":{"field":"hi","type":"quantitative","scale":{"domain":[0,50],"range":[1544,1273.3],"nice":false,"zero":false},"axis":{"orient":"left","offset":-408,"values":[0,10,20,30,40,50],"title":"amplitude decrease (%)","titleFontSize":18,"titlePadding":1,"labelFontSize":12,"tickSize":4,"labelPadding":2,"domainWidth":2,"tickWidth":2}}}},
   {"data":{"name":"sigbars"},"transform":[{"filter":"datum.panel==='H'"}],"mark":{"type":"line","color":"#000000","strokeWidth":2},
    "encoding":{"x":{"field":"group","type":"nominal","scale":{"type":"band","domain":["SC bleached","shAtg5","shAtg5 bleached"],"range":[408,512],"paddingInner":0.3,"paddingOuter":0.15},"axis":{"orient":"top","domain":false,"ticks":false,"labels":false,"title":"H","titleX":342.5,"titleY":1287.5,"titleAlign":"center","titleBaseline":"middle","titleAngle":0,"titleFontSize":28}},"detail":{"field":"sig","type":"nominal"}}},
   {"data":{"name":"sigbars"},"transform":[{"filter":"datum.panel==='H' && datum.sig===1 && datum.end==='L'"}],"mark":{"type":"text","color":"#000000","fontSize":15,"fontWeight":"bold","align":"center","baseline":"alphabetic","dx":34.7,"dy":2},
    "encoding":{"x":{"field":"group","type":"nominal","scale":{"type":"band","domain":["SC bleached","shAtg5","shAtg5 bleached"],"range":[408,512],"paddingInner":0.3,"paddingOuter":0.15},"axis":null},"text":{"field":"label"}}},
   {"data":{"name":"sigbars"},"transform":[{"filter":"datum.panel==='H' && datum.sig===2 && datum.end==='L'"}],"mark":{"type":"text","color":"#000000","fontSize":15,"fontWeight":"bold","align":"center","baseline":"alphabetic","dx":17.3,"dy":2},
    "encoding":{"x":{"field":"group","type":"nominal","scale":{"type":"band","domain":["SC bleached","shAtg5","shAtg5 bleached"],"range":[408,512],"paddingInner":0.3,"paddingOuter":0.15},"axis":null},"text":{"field":"label"}}}
  ]
 }
]
}
